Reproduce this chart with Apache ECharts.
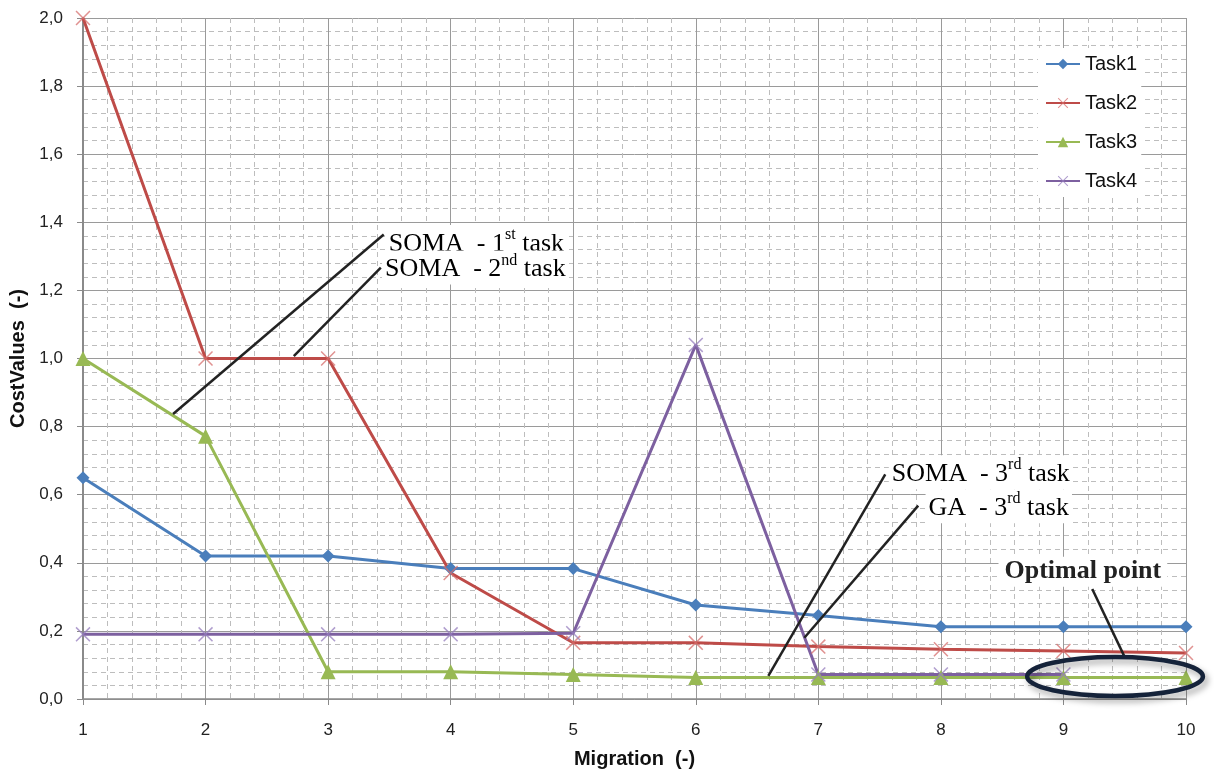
<!DOCTYPE html>
<html><head><meta charset="utf-8">
<script src="https://cdn.jsdelivr.net/npm/echarts@6/dist/echarts.min.js"></script>
<style>html,body{margin:0;padding:0;background:#fff}#c{width:1214px;height:769px}</style>
</head><body><div id="c"></div>
<script>
// ---- data ----
const migrations = [1, 2, 3, 4, 5, 6, 7, 8, 9, 10];
const task1 = [0.65, 0.42, 0.42, 0.383, 0.383, 0.276, 0.245, 0.212, 0.212, 0.212];
const task2 = [2.0, 1.0, 1.0, 0.37, 0.165, 0.165, 0.154, 0.146, 0.141, 0.135];
const task3 = [1.0, 0.772, 0.08, 0.08, 0.072, 0.063, 0.063, 0.063, 0.063, 0.063];
const task4 = [0.19, 0.19, 0.19, 0.19, 0.193, 1.04, 0.072, 0.072, 0.072, null];
const seriesNames = ['Task1', 'Task2', 'Task3', 'Task4'];
const yTickLabels = ['0,0','0,2','0,4','0,6','0,8','1,0','1,2','1,4','1,6','1,8','2,0'];
const xTickLabels = ['1','2','3','4','5','6','7','8','9','10'];
const xTitle = 'Migration  (-)';
const yTitle = 'CostValues  (-)';

// annotation callouts (data coordinates)
const callouts = [
  { parts: ['SOMA  - 1', 'st', ' task'], at: [3.47, 1.342], from: [1.735, 0.837], to: [3.454, 1.364] },
  { parts: ['SOMA  - 2', 'nd', ' task'], at: [3.44, 1.267], from: [2.72, 1.007], to: [3.43, 1.267] },
  { parts: ['SOMA  - 3', 'rd', ' task'], at: [7.575, 0.666], from: [6.592, 0.068], to: [7.546, 0.66] },
  { parts: ['GA  - 3', 'rd', ' task'], at: [7.875, 0.566], from: [6.886, 0.18], to: [7.815, 0.568] }
];
const optimal = { text: 'Optimal point', at: [8.47, 0.374], from: [9.235, 0.323], to: [9.5, 0.123],
  center: [9.421, 0.066], rx: 0.717, ry: 0.057 };

const colors = ['#4a7ebb', '#be4b48', '#98b954', '#7d60a0'];
const xPath = 'path://M0,1L1,0L7,6L13,0L14,1L8,7L14,13L13,14L7,8L1,14L0,13L6,7Z';

const chart = echarts.init(document.getElementById('c'), null, { renderer: 'canvas' });
const toPairs = arr => migrations.map((m, i) => [m, arr[i]]);

function mkSeries(name, arr, color, symbol, size, markerColor) {
  return {
    name, type: 'line', data: toPairs(arr), symbol, symbolSize: size,
    showSymbol: true, connectNulls: false, z: 3,
    color: color,
    lineStyle: { color, width: 3 },
    itemStyle: { color: markerColor || color },
    emphasis: { disabled: true }, animation: false
  };
}

const option = {
  animation: false,
  backgroundColor: '#fff',
  grid: { left: 83, right: 28, top: 18, bottom: 70, containLabel: false, outerBoundsMode: 'none' },
  legend: {
    orient: 'vertical', left: 1038, top: 48,
    data: seriesNames,
    itemWidth: 34, itemHeight: 13, itemGap: 19,
    padding: [6, 4, 6, 7],
    backgroundColor: '#fff',
    textStyle: { fontFamily: 'Liberation Sans', fontSize: 20, color: '#111' }
  },
  xAxis: {
    type: 'value', min: 1, max: 10, interval: 1,
    name: xTitle, nameLocation: 'middle', nameGap: 50,
    nameTextStyle: { fontFamily: 'Liberation Sans', fontWeight: 'bold', fontSize: 20, color: '#111' },
    axisLine: { show: true, lineStyle: { color: '#8a8a8a', width: 1.5 } },
    axisTick: { show: true, length: 6, lineStyle: { color: '#8a8a8a' } },
    axisLabel: { margin: 23, fontFamily: 'Liberation Sans', fontSize: 17, color: '#222',
      formatter: v => xTickLabels[Math.round(v) - 1] },
    splitLine: { show: true, lineStyle: { color: '#9a9a9a', width: 1 } },
    minorTick: { show: false, splitNumber: 5 },
    minorSplitLine: { show: true, lineStyle: { color: '#bdbdbd', width: 1, type: [5, 4] } }
  },
  yAxis: {
    type: 'value', min: 0, max: 2, interval: 0.2,
    name: yTitle, nameLocation: 'middle', nameGap: 52, nameRotate: 90,
    nameTextStyle: { fontFamily: 'Liberation Sans', fontWeight: 'bold', fontSize: 20, color: '#111' },
    axisLine: { show: true, lineStyle: { color: '#8a8a8a', width: 2 } },
    axisTick: { show: true, length: 6, lineStyle: { color: '#8a8a8a' } },
    axisLabel: { margin: 20, fontFamily: 'Liberation Sans', fontSize: 17, color: '#222',
      formatter: v => yTickLabels[Math.round(v / 0.2)] },
    splitLine: { show: true, lineStyle: { color: '#9a9a9a', width: 1 } },
    minorTick: { show: false, splitNumber: 5 },
    minorSplitLine: { show: true, lineStyle: { color: '#bdbdbd', width: 1, type: [5, 4] } }
  },
  series: [
    mkSeries('Task1', task1, colors[0], 'diamond', 13),
    mkSeries('Task2', task2, colors[1], xPath, 15, 'rgba(214,110,108,0.75)'),
    mkSeries('Task3', task3, colors[2], 'triangle', 15),
    mkSeries('Task4', task4, colors[3], xPath, 15, 'rgba(150,125,190,0.75)')
  ]
};
chart.setOption(option);

function px(p) { return chart.convertToPixel({ gridIndex: 0 }, p); }

const graphics = [];
const lineStyle = { stroke: '#222', lineWidth: 2.5 };
const allLines = callouts.map(c => [c.from, c.to]).concat([[optimal.from, optimal.to]]);
allLines.forEach(([a, b]) => {
  const p1 = px(a), p2 = px(b);
  graphics.push({ type: 'line', z: 100, shape: { x1: p1[0], y1: p1[1], x2: p2[0], y2: p2[1] }, style: lineStyle, silent: true });
});
callouts.forEach(c => {
  const p = px(c.at);
  graphics.push({
    type: 'text', z: 101, x: p[0], y: p[1], silent: true,
    style: {
      text: '{a|' + c.parts[0] + '}{s|' + c.parts[1] + '}{a|' + c.parts[2] + '}',
      align: 'left', verticalAlign: 'middle',
      backgroundColor: '#fff', padding: [2, 3, 2, 3],
      rich: {
        a: { fontFamily: 'Liberation Serif', fontSize: 26, color: '#222', lineHeight: 30, verticalAlign: 'bottom' },
        s: { fontFamily: 'Liberation Serif', fontSize: 16, color: '#222', lineHeight: 28, verticalAlign: 'top' }
      }
    }
  });
});
{
  const p = px(optimal.at);
  graphics.push({
    type: 'text', z: 101, x: p[0], y: p[1], silent: true,
    style: {
      text: optimal.text, align: 'left', verticalAlign: 'middle',
      fontFamily: 'Liberation Serif', fontWeight: 'bold', fontSize: 26, fill: '#222',
      backgroundColor: '#fff', padding: [2, 6, 2, 6]
    }
  });
  const c = px(optimal.center);
  const e = px([optimal.center[0] + optimal.rx, optimal.center[1] + optimal.ry]);
  graphics.push({
    type: 'ellipse', z: 102, silent: true,
    shape: { cx: c[0], cy: c[1], rx: Math.abs(e[0] - c[0]), ry: Math.abs(c[1] - e[1]) },
    style: { fill: null, stroke: '#15233a', lineWidth: 4.5, shadowBlur: 6, shadowOffsetX: 3, shadowOffsetY: 4, shadowColor: 'rgba(0,0,0,0.35)' }
  });
}
chart.setOption({ graphic: graphics });
</script>
</body></html>
